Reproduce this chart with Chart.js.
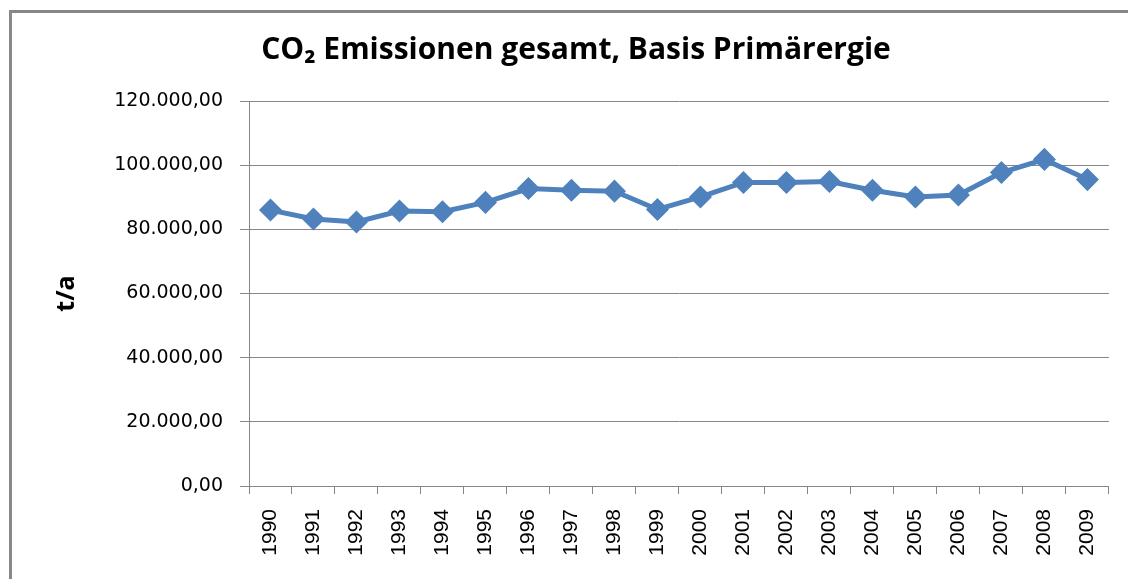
<!DOCTYPE html>
<html>
<head>
<meta charset="utf-8">
<script src="https://cdn.jsdelivr.net/npm/chart.js@4"></script>
<style>
    html, body{ margin:0; background:#fff; overflow:hidden; }
    #chart-container{ position:absolute; left:0; top:0; width:1128px; height:579px; }
</style>
</head>
<body>
<div id="chart-container"><canvas id="myChart" width="1128" height="579"></canvas></div>
<script>
var years = ["1990","1991","1992","1993","1994","1995","1996","1997","1998","1999",
             "2000","2001","2002","2003","2004","2005","2006","2007","2008","2009"];
var emissions = [86000, 83200, 82300, 85700, 85500, 88400, 92700, 92200, 91900, 86200,
                 90100, 94600, 94600, 94900, 92200, 90100, 90700, 97700, 101800, 95500];
var chartTitle = "CO\u2082 Emissionen gesamt, Basis Primärergie";
var yTitle = "t/a";

function formatDE(v){
    var parts = v.toFixed(2).split(".");
    var intPart = parts[0].replace(/\B(?=(\d{3})+(?!\d))/g, ".");
    return intPart + "," + parts[1];
}

// outer chart frame, only top and left edges are visible in the crop
var framePlugin = {
    id: 'frame',
    beforeDraw: function(chart){
        var c = chart.ctx;
        c.save();
        c.strokeStyle = '#888';
        c.lineWidth = 3;
        c.beginPath();
        c.moveTo(10.5, chart.height);
        c.lineTo(10.5, 11.5);
        c.lineTo(chart.width, 11.5);
        c.stroke();
        c.restore();
    }
};

var ctx = document.getElementById('myChart').getContext('2d');
var myChart = new Chart(ctx, {
    type: 'line',
    data: {
        labels: years,
        datasets: [{
            label: 'CO2',
            data: emissions,
            borderColor: '#4F81BD',
            backgroundColor: '#4F81BD',
            borderWidth: 5,
            pointStyle: 'rectRot',
            pointRadius: 8,
            pointHoverRadius: 8,
            tension: 0
        }]
    },
    options: {
        responsive: false,
        animation: false,
        layout: { padding: { left: 39, right: 15, top: 0, bottom: 0 } },
        plugins: {
            legend: { display: false },
            tooltip: { enabled: false },
            title: {
                display: true,
                text: chartTitle,
                color: '#000',
                font: { family: "'Open Sans', sans-serif", size: 30, weight: 'bold' },
                padding: { top: 32, bottom: 33 }
            }
        },
        scales: {
            x: {
                offset: true,
                afterFit: function(scale){ scale.height = 93; },
                grid: { offset: true, drawOnChartArea: false, drawTicks: true, tickLength: 8, color: '#868686', lineWidth: 1 },
                border: { color: '#868686', width: 1 },
                ticks: {
                    minRotation: 90, maxRotation: 90, padding: 15, autoSkip: false,
                    color: '#000',
                    font: { family: "'Liberation Sans', Arial, sans-serif", size: 21 }
                }
            },
            y: {
                min: 0,
                max: 120000,
                afterFit: function(scale){ scale.width = 210; },
                grid: { color: '#868686', lineWidth: 1, tickLength: 9 },
                border: { color: '#868686', width: 1 },
                ticks: {
                    stepSize: 20000,
                    padding: 17,
                    color: '#000',
                    font: { family: "'DejaVu Sans', sans-serif", size: 19 },
                    callback: function(v){ return formatDE(v); }
                },
                title: {
                    display: true,
                    text: yTitle,
                    color: '#000',
                    font: { family: "'Open Sans', sans-serif", size: 25, weight: 'bold' },
                    padding: { top: 13, bottom: 0 }
                }
            }
        }
    },
    plugins: [framePlugin]
});
</script>
</body>
</html>
